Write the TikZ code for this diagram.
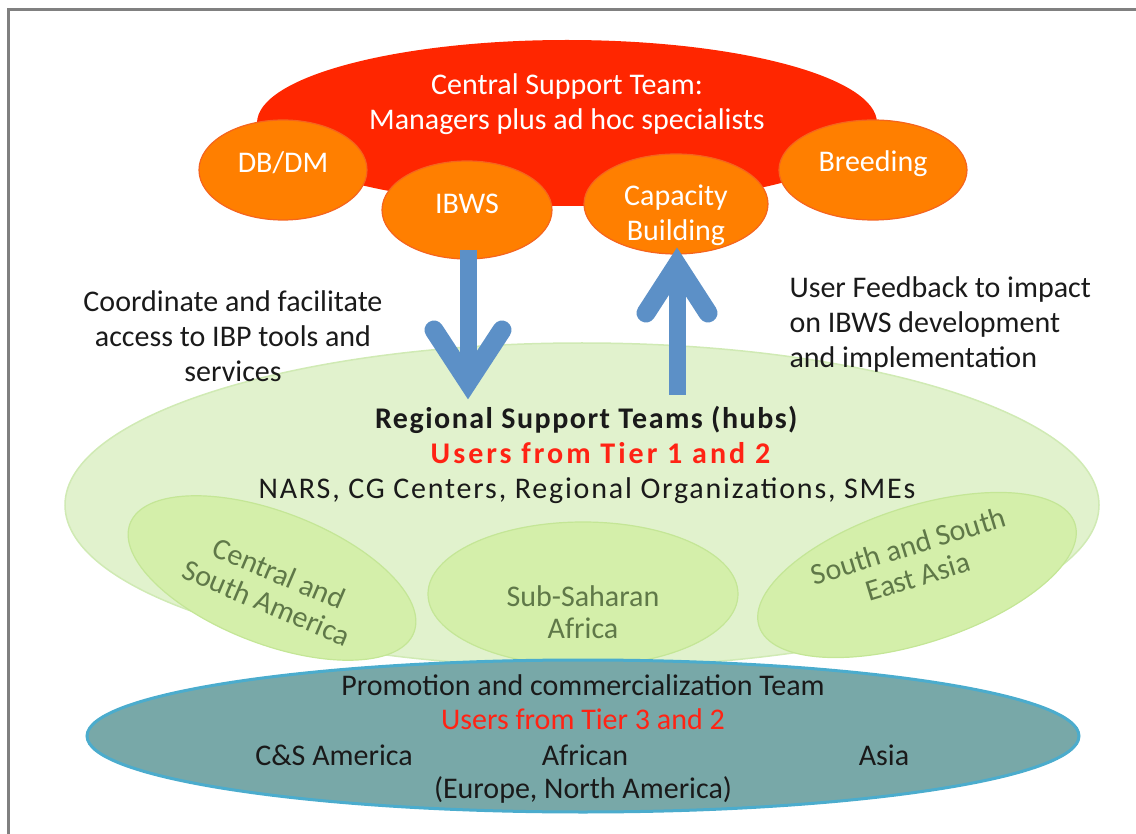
\documentclass[tikz,border=0pt]{standalone}
\usepackage{fontspec}
\setmainfont{Carlito}
\usetikzlibrary{shapes.geometric}
\definecolor{cstred}{RGB}{255,38,0}
\definecolor{orng}{RGB}{255,127,0}
\definecolor{orngline}{RGB}{245,100,30}
\definecolor{lgreen}{RGB}{225,242,205}
\definecolor{lgreenline}{RGB}{208,234,180}
\definecolor{mgreen}{RGB}{212,239,170}
\definecolor{mgreenline}{RGB}{196,230,150}
\definecolor{teal}{RGB}{120,168,168}
\definecolor{tealline}{RGB}{75,172,205}
\definecolor{arrowblue}{RGB}{92,144,199}
\definecolor{txt}{RGB}{26,26,26}
\definecolor{redtxt}{RGB}{255,35,20}
\definecolor{olive}{RGB}{95,120,72}
\definecolor{framegray}{RGB}{128,128,128}
\tikzset{
  base/.style={inner sep=0pt, outer sep=0pt},
  bigfont/.style={font=\fontsize{30}{35}\selectfont},
  orangebox/.style={base, ellipse, fill=orng, draw=orngline, line width=1.2pt},
  orangetext/.style={base, text=white, bigfont, align=center},
  hub/.style={base, ellipse, fill=mgreen, draw=mgreenline, line width=1.2pt},
  hubtext/.style={text=olive, font=\fontsize{30}{32}\selectfont, align=center},
  plain/.style={text=txt, bigfont},
  shaft/.style={draw=arrowblue, line width=17pt},
  head/.style={draw=arrowblue, line width=19pt, line cap=round, line join=miter},
}
\begin{document}
\begin{tikzpicture}[x=1pt,y=1pt]
\useasboundingbox (0,-834) rectangle (1136,0);
\draw[framegray, line width=3pt] (8,-834) -- (8,-10) -- (1136,-10);

% central support team
\node[base, ellipse, fill=cstred, minimum width=620pt, minimum height=166pt] (cst) at (567,-123) {};
\node[base, text=white, bigfont, align=center] (csttext) at (567,-104) {Central Support Team:\\Managers plus ad hoc specialists};
\node[orangebox, minimum width=168pt, minimum height=100pt] (dbdm) at (283,-170) {};
\node[orangebox, minimum width=170pt, minimum height=98pt] (ibws) at (467,-210) {};
\node[orangebox, minimum width=184pt, minimum height=100pt] (cap) at (676,-204) {};
\node[orangebox, minimum width=188pt, minimum height=100pt] (breed) at (873,-170) {};
\node[orangetext] (dbdmtext) at (283,-163) {DB/DM};
\node[orangetext] (ibwstext) at (467,-204) {IBWS};
\node[orangetext] (captext) at (676,-215) {Capacity\\Building};
\node[orangetext] (breedtext) at (873,-164) {Breeding};

% regional support teams
\node[base, ellipse, fill=lgreen, draw=lgreenline, line width=1.5pt, minimum width=1034pt, minimum height=324pt] (rst) at (582,-505) {};
\node[hub, minimum width=304pt, minimum height=132pt, rotate=-21] (csa) at (272,-578) {};
\node[hub, minimum width=310pt, minimum height=144pt] (ssa) at (583,-594) {};
\node[hub, minimum width=332pt, minimum height=136pt, rotate=18] (ssea) at (917,-575) {};
\node[hubtext, rotate=-23] (csatext) at (273,-588) {Central and\\South America};
\node[hubtext] (ssatext) at (583,-612) {Sub-Saharan\\Africa};
\node[hubtext, rotate=17] (sseatext) at (913,-561) {South and South\\East Asia};
\node[base, bigfont, text=txt, align=center] (rsttext) at (587,-455)
  {{\addfontfeature{LetterSpace=5}\textbf{Regional Support Teams (hubs)}}\\
   \hspace*{30pt}{\addfontfeature{LetterSpace=10}\textcolor{redtxt}{\textbf{Users from Tier 1 and 2}}}\\
   {\addfontfeature{LetterSpace=6}NARS, CG Centers, Regional Organizations, SMEs}};

% promotion team
\node[base, ellipse, fill=teal, draw=tealline, line width=3pt, minimum width=992pt, minimum height=152pt] (prom) at (583,-736) {};
\node[plain] (promtitle) at (583,-685) {Promotion and commercialization Team};
\node[base, bigfont, text=redtxt] (promusers) at (583,-719) {Users from Tier 3 and 2};
\node[plain] (csam) at (334,-755) {C\&S America};
\node[plain] (afr) at (585,-755) {African};
\node[plain] (asia) at (884,-755) {Asia};
\node[plain] (eur) at (583,-790) {(Europe, North America)};

% side texts
\node[plain, align=center] (coord) at (233,-336) {Coordinate and facilitate\\access to IBP tools and\\services};
\node[plain, align=left, anchor=west] (feedback) at (786,-325) {User Feedback to impact\\on IBWS development\\and implementation};

% arrows
\coordinate (dtop) at (468,-250);
\coordinate (dend) at (468,-385);
\coordinate (dl) at (434,-330);
\coordinate (dtip) at (468,-382);
\coordinate (dr) at (502,-330);
\draw[shaft] (dtop) -- (dend);
\draw[head] (dl) -- (dtip) -- (dr);

\coordinate (ubot) at (677,-395);
\coordinate (uend) at (677,-270);
\coordinate (ul) at (646,-313);
\coordinate (utip) at (677,-265);
\coordinate (ur) at (708,-313);
\draw[shaft] (ubot) -- (uend);
\draw[head] (ul) -- (utip) -- (ur);
\end{tikzpicture}
\end{document}
